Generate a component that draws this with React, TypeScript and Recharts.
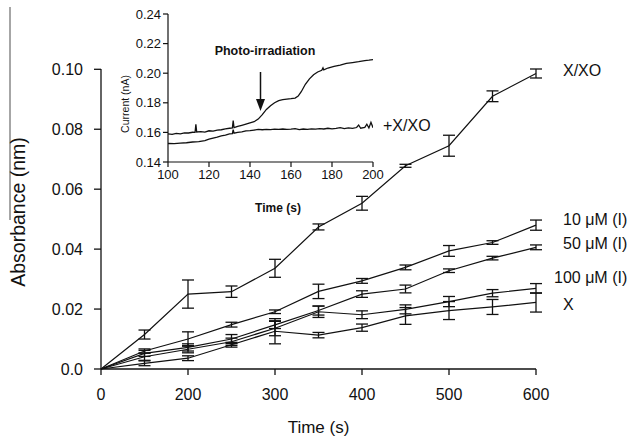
import React from 'react';
import { LineChart, Line, XAxis, YAxis, ErrorBar } from 'recharts';

// main chart: sampling times (category positions) and axis labels
const times = ['0', '100', '200', '250', '300', '350', '400', '450', '500', '550', '600'];
const timeTicks = ['0', '200', '300', '400', '500', '600'];
const absTicks = [0, 0.02, 0.04, 0.06, 0.08, 0.1];
const absTickLabels = ['0.0', '0.02', '0.04', '0.06', '0.08', '0.10'];

const xxo = [0, 0.0115, 0.025, 0.0258, 0.0336, 0.0474, 0.0553, 0.0678, 0.0745, 0.091, 0.0986];
const xxoErr = [null, 0.0015, 0.0047, 0.0019, 0.003, 0.001, 0.0023, 0.0005, 0.0035, 0.0018, 0.0015];
const i10 = [0, 0.006, 0.01, 0.0148, 0.0191, 0.0259, 0.0294, 0.0339, 0.0394, 0.0422, 0.048];
const i10Err = [null, 0.0007, 0.0024, 0.0008, 0.0006, 0.0024, 0.0008, 0.0008, 0.0018, 0.0006, 0.0017];
const i50 = [0, 0.0052, 0.0072, 0.01, 0.0147, 0.0195, 0.025, 0.0267, 0.0328, 0.037, 0.0406];
const i50Err = [null, 0.001, 0.0012, 0.0015, 0.0012, 0.0015, 0.0011, 0.0013, 0.0006, 0.0006, 0.0008];
const i100 = [0, 0.0041, 0.0066, 0.0091, 0.0136, 0.0191, 0.0181, 0.0199, 0.0225, 0.0253, 0.0269];
const i100Err = [null, 0.0012, 0.0012, 0.0012, 0.0025, 0.0019, 0.0013, 0.0015, 0.0017, 0.0012, 0.0016];
const xOnly = [0, 0.0019, 0.0036, 0.0081, 0.0126, 0.0113, 0.0138, 0.0177, 0.0195, 0.0207, 0.0222];
const xOnlyErr = [null, 0.0008, 0.0008, 0.0008, 0.0042, 0.0009, 0.0012, 0.0028, 0.003, 0.0025, 0.0032];

// inset: current traces
const insetTimeTicks = [100, 120, 140, 160, 180, 200];
const insetCurrentTicks = [0.14, 0.16, 0.18, 0.2, 0.22, 0.24];

const irrTime = [100, 102, 104, 106, 108, 110, 112, 113.2, 113.6, 114, 116, 118, 120, 122, 124, 126, 128, 130, 131.4, 131.8, 132.2, 134, 136, 138, 140, 142, 144, 146, 148, 150, 152, 154, 156, 158, 160, 162, 163.5, 165, 167, 169, 171, 173, 175, 175.6, 176, 178, 181, 184, 187, 190, 193, 196, 198, 200];
const irrCurrent = [0.159, 0.1587, 0.1593, 0.159, 0.1597, 0.1596, 0.1601, 0.16, 0.1655, 0.1603, 0.1605, 0.1602, 0.1611, 0.1609, 0.1616, 0.1618, 0.1624, 0.1628, 0.163, 0.168, 0.1632, 0.164, 0.1648, 0.1656, 0.1664, 0.1672, 0.169, 0.172, 0.1755, 0.178, 0.18, 0.1815, 0.1822, 0.1825, 0.1828, 0.1832, 0.1845, 0.1875, 0.1925, 0.1962, 0.199, 0.2008, 0.202, 0.2036, 0.2022, 0.2035, 0.2046, 0.2055, 0.2066, 0.2072, 0.2078, 0.2085, 0.2088, 0.2092];

const ctlTime = [100, 103, 106, 109, 112, 115, 118, 120, 122, 124, 126, 128, 130, 131.4, 131.8, 132.2, 134, 136, 138, 140, 142, 144, 146, 148, 150, 152, 154, 156, 158, 160, 162, 164, 166, 168, 170, 172, 174, 176, 178, 180, 182, 184, 186, 188, 190, 192, 193, 194, 196, 197, 198, 199, 200];
const ctlCurrent = [0.1525, 0.1524, 0.1528, 0.153, 0.1535, 0.1538, 0.1545, 0.1555, 0.1562, 0.1568, 0.1576, 0.1582, 0.159, 0.1592, 0.1618, 0.1595, 0.16, 0.1604, 0.161, 0.1612, 0.1616, 0.162, 0.1618, 0.1621, 0.1619, 0.1622, 0.162, 0.1623, 0.162, 0.1622, 0.1625, 0.1619, 0.1623, 0.1621, 0.1624, 0.1622, 0.1626, 0.1623, 0.1628, 0.1624, 0.1627, 0.1632, 0.1626, 0.163, 0.1627, 0.1633, 0.165, 0.1628, 0.1634, 0.1655, 0.163, 0.1668, 0.1632];

const rows = times.map((time, i) => ({
  time,
  xxo: xxo[i], xxoErr: xxoErr[i],
  i10: i10[i], i10Err: i10Err[i],
  i50: i50[i], i50Err: i50Err[i],
  i100: i100[i], i100Err: i100Err[i],
  xOnly: xOnly[i], xOnlyErr: xOnlyErr[i],
}));
const irrRows = irrTime.map((t, i) => ({ t, current: irrCurrent[i] }));
const ctlRows = ctlTime.map((t, i) => ({ t, current: ctlCurrent[i] }));

const FONT = '"Liberation Sans", Arial, sans-serif';
const INK = '#111';

const series = [
  { key: 'xxo', err: 'xxoErr' },
  { key: 'i10', err: 'i10Err' },
  { key: 'i50', err: 'i50Err' },
  { key: 'i100', err: 'i100Err' },
  { key: 'xOnly', err: 'xOnlyErr' },
];

export default function App() {
  return (
    <div style={{ position: 'absolute', left: 0, top: 0, width: 629, height: 441, background: '#fff', fontFamily: FONT }}>
      <LineChart width={629} height={441} data={rows} margin={{ top: 69, right: 93, bottom: 42, left: 41 }}>
        <XAxis
          dataKey="time"
          type="category"
          scale="point"
          padding={{ left: 0, right: 0 }}
          ticks={timeTicks}
          interval={0}
          height={30}
          stroke={INK}
          strokeWidth={1.3}
          tickSize={6}
          tickMargin={14}
          tick={{ fill: INK, fontSize: 16, fontFamily: FONT }}
        />
        <YAxis
          type="number"
          domain={[0, 0.1]}
          ticks={absTicks}
          width={60}
          stroke={INK}
          strokeWidth={1.3}
          tickSize={7}
          tickMargin={11}
          tickFormatter={(v: number, i: number) => absTickLabels[i] ?? String(v)}
          tick={{ fill: INK, fontSize: 16, fontFamily: FONT }}
        />
        {series.map(s => (
          <Line key={s.key} dataKey={s.key} stroke={INK} strokeWidth={1.2} dot={false} isAnimationActive={false}>
            <ErrorBar dataKey={s.err} direction="y" width={6} stroke={INK} strokeWidth={1.3} isAnimationActive={false} />
          </Line>
        ))}
      </LineChart>

      <div style={{ position: 'absolute', left: 100, top: 0 }}>
        <LineChart width={300} height={220} margin={{ top: 14, right: 27, bottom: 33, left: 18 }}>
          <XAxis
            dataKey="t"
            type="number"
            domain={[100, 200]}
            ticks={insetTimeTicks}
            allowDataOverflow
            height={25}
            stroke={INK}
            strokeWidth={1.2}
            tickSize={5}
            tickMargin={3}
            tick={{ fill: INK, fontSize: 13, fontFamily: FONT }}
          />
          <YAxis
            type="number"
            domain={[0.14, 0.24]}
            ticks={insetCurrentTicks}
            allowDataOverflow
            width={50}
            stroke={INK}
            strokeWidth={1.2}
            tickSize={5}
            tickMargin={2}
            tickFormatter={(v: number) => v.toFixed(2)}
            tick={{ fill: INK, fontSize: 13, fontFamily: FONT }}
          />
          <Line data={irrRows} dataKey="current" stroke={INK} strokeWidth={1.3} dot={false} isAnimationActive={false} />
          <Line data={ctlRows} dataKey="current" stroke={INK} strokeWidth={1.3} dot={false} isAnimationActive={false} />
        </LineChart>
      </div>

      <svg width={629} height={441} style={{ position: 'absolute', left: 0, top: 0, pointerEvents: 'none' }} fontFamily={FONT} fill={INK}>
        <line x1={10} y1={7} x2={10} y2={220} stroke="#888" strokeWidth={1.5} />
        <text x={0} y={0} fontSize={19.5} textAnchor="middle" transform="translate(25 212) rotate(-90)">Absorbance (nm)</text>
        <text x={318.5} y={433} fontSize={17} textAnchor="middle">Time (s)</text>

        <text x={563} y={76} fontSize={16}>X/XO</text>
        <text x={563} y={225} fontSize={16}>10 μM (I)</text>
        <text x={563} y={249} fontSize={16}>50 μM (I)</text>
        <text x={554} y={283} fontSize={16}>100 μM (I)</text>
        <text x={563} y={310} fontSize={16}>X</text>

        <text x={383} y={131} fontSize={16}>+X/XO</text>
        <text x={265} y={55} fontSize={12.5} fontWeight="bold" textAnchor="middle">Photo-irradiation</text>
        <text x={278} y={212} fontSize={12} fontWeight="bold" textAnchor="middle">Time (s)</text>
        <text x={0} y={0} fontSize={10.5} textAnchor="middle" transform="translate(129 104) rotate(-90)">Current (nA)</text>
        <line x1={260.5} y1={72} x2={260.5} y2={100} stroke={INK} strokeWidth={1.5} />
        <polygon points="256,99 265,99 260.5,111" fill={INK} />
      </svg>
    </div>
  );
}
